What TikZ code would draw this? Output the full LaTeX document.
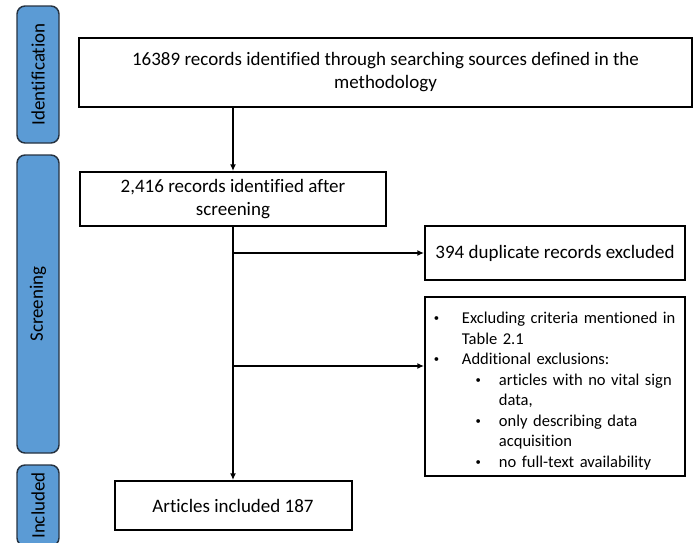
\documentclass[tikz,border=0pt]{standalone}
\usepackage{fontspec}
\setmainfont{Carlito}[Ligatures=NoCommon]
\usetikzlibrary{arrows.meta}
\definecolor{tabblue}{RGB}{91,155,213}
\definecolor{tabedge}{RGB}{38,50,64}
\tikzset{every picture/.style={line width=0.75pt}}

\begin{document}
\begin{tikzpicture}[x=0.75pt,y=0.75pt,yscale=-1,xscale=1,
  phase/.style={draw=tabedge, fill=tabblue, line width=1.1pt, rounded corners=6pt, rotate=90, minimum height=31.5pt, inner sep=0pt, font=\fontsize{14.25}{17}\selectfont},
  stage/.style={draw, line width=1.5pt, inner sep=0pt, align=center, font=\fontsize{14.25}{17.25}\selectfont},
  flow/.style={line width=1.5pt, -{Latex[length=5pt,width=4.5pt]}}]
\useasboundingbox (0,0) rectangle (697,543);

%Rounded Rect: phases
\node [phase, minimum width=102.75pt] (ident) at (38,74.5) {Identification};
\node [phase, minimum width=223.5pt] (screen) at (38,304) {Screening};
\node [phase, minimum width=60.75pt] (incphase) at (38,505.5) {Included};

% Text Node
\node [stage, minimum width=459.75pt, minimum height=51.75pt] (found) at (385.5,72.5) {16389 records identified through searching sources defined in the\\methodology};
% Text Node
\node [stage, minimum width=229.5pt, minimum height=40.5pt] (screened) at (233,199) {2,416 records identified after\\screening};
% Text Node
\node [stage, minimum width=195pt, minimum height=40.5pt] (dup) at (555,253) {394 duplicate records excluded};
% Text Node
\node [stage, minimum width=195pt, minimum height=134.25pt, inner xsep=2pt, text width=191pt, align=left, font=\fontsize{12.4}{15.4}\selectfont] (excl) at (555,386.5) {%
\begin{list}{\raisebox{0.12em}{\fontsize{8}{8}\selectfont\textbullet}}{\leftmargin=25.7pt \labelsep=17pt \labelwidth=7pt \topsep=0pt \partopsep=0pt \itemsep=0pt \parsep=0pt}
\item Excluding criteria mentioned in\newline Table 2.1
\item Additional exclusions:
  \begin{list}{\raisebox{0.12em}{\fontsize{8}{8}\selectfont\textbullet}}{\leftmargin=27.75pt \labelsep=13.5pt \labelwidth=14pt \topsep=0pt \partopsep=0pt \itemsep=0pt \parsep=0pt}
  \item articles with no vital sign\newline data,
  \item only describing data\newline acquisition
  \item no full-text availability
  \end{list}
\end{list}\vspace*{7.5pt}};
% Text Node
\node [stage, minimum width=177.75pt, minimum height=36.75pt] (incl) at (233,505.5) {Articles included 187};

%Straight Lines
\coordinate (jdup) at (screened.south |- dup.west);
\coordinate (jexcl) at (233,366);
\draw [flow] (found.south -| screened.north) -- (screened.north);
\draw [flow] (screened.south) -- (incl.north);
\draw [flow] (jdup) -- (dup.west);
\draw [flow] (jexcl) -- (jexcl -| excl.west);

\end{tikzpicture}
\end{document}
